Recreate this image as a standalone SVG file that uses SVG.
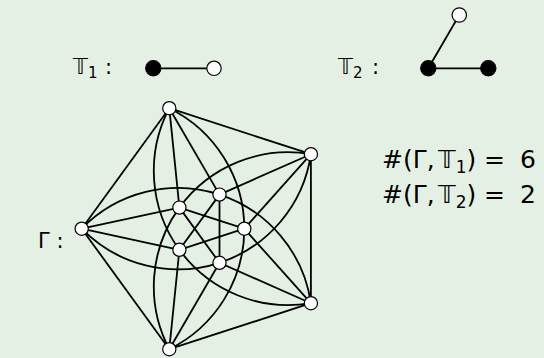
<svg xmlns="http://www.w3.org/2000/svg" width="544" height="358" viewBox="0 0 544 358">
<style>
.e{fill:none;stroke:#000;stroke-width:1.8}
.w{fill:#fff;stroke:#000;stroke-width:1.2}
.b{fill:#000;stroke:#000;stroke-width:1.2}
text{font-family:"DejaVu Sans","Liberation Sans",sans-serif;fill:#000}
.m{font-size:21px}
.s{font-size:15px}
.L{font-size:25px}
.S{font-size:17px}
</style>
<rect width="544" height="358" fill="#e5f0e4"/>

<g id="labels">
<text class="m" x="73" y="74">𝕋<tspan class="s" dy="4">1</tspan></text>
<text class="m" x="105" y="74">:</text>
<text class="m" x="338" y="74">𝕋<tspan class="s" dy="4">2</tspan></text>
<text class="m" x="372" y="74">:</text>
<text class="m" x="38" y="248">Γ :</text>
<text class="L" x="382" y="168">#(Γ,<tspan x="438">𝕋</tspan><tspan class="S" dy="5">1</tspan><tspan dy="-5">)</tspan><tspan x="484">=</tspan><tspan x="520">6</tspan></text>
<text class="L" x="382" y="203">#(Γ,<tspan x="438">𝕋</tspan><tspan class="S" dy="5">2</tspan><tspan dy="-5">)</tspan><tspan x="484">=</tspan><tspan x="520">2</tspan></text>
</g>

<g id="connectors">
<line class="e" x1="153.3" y1="68.3" x2="214" y2="68.3"/>
<line class="e" x1="428.3" y1="68.3" x2="488.3" y2="68.3"/>
<line class="e" x1="428.3" y1="68.3" x2="459.3" y2="15"/>
<line class="e" x1="81.7" y1="228.7" x2="169.3" y2="108.2"/>
<line class="e" x1="169.3" y1="108.2" x2="310.9" y2="154.2"/>
<line class="e" x1="310.9" y1="154.2" x2="310.9" y2="303.2"/>
<line class="e" x1="310.9" y1="303.2" x2="169.3" y2="349.2"/>
<line class="e" x1="169.3" y1="349.2" x2="81.7" y2="228.7"/>
<line class="e" x1="244.3" y1="228.7" x2="179.4" y2="207.6"/>
<line class="e" x1="244.3" y1="228.7" x2="179.4" y2="249.8"/>
<line class="e" x1="219.5" y1="194.6" x2="179.4" y2="249.8"/>
<line class="e" x1="219.5" y1="194.6" x2="219.5" y2="262.8"/>
<line class="e" x1="179.4" y1="207.6" x2="219.5" y2="262.8"/>
<line class="e" x1="81.7" y1="228.7" x2="179.4" y2="207.6"/>
<line class="e" x1="81.7" y1="228.7" x2="179.4" y2="249.8"/>
<line class="e" x1="169.3" y1="108.2" x2="219.5" y2="194.6"/>
<line class="e" x1="169.3" y1="108.2" x2="179.4" y2="207.6"/>
<line class="e" x1="310.9" y1="154.2" x2="219.5" y2="194.6"/>
<line class="e" x1="310.9" y1="154.2" x2="244.3" y2="228.7"/>
<line class="e" x1="310.9" y1="303.2" x2="244.3" y2="228.7"/>
<line class="e" x1="310.9" y1="303.2" x2="219.5" y2="262.8"/>
<line class="e" x1="169.3" y1="349.2" x2="219.5" y2="262.8"/>
<line class="e" x1="169.3" y1="349.2" x2="179.4" y2="249.8"/>
<path class="e" d="M169.3,108.2A134.5,134.5 0 0 1 244.3,228.7"/>
<path class="e" d="M169.3,349.2A134.5,134.5 0 0 0 244.3,228.7"/>
<path class="e" d="M81.7,228.7A134.5,134.5 0 0 0 219.5,262.8"/>
<path class="e" d="M310.9,154.2A134.5,134.5 0 0 1 219.5,262.8"/>
<path class="e" d="M169.3,108.2A134.5,134.5 0 0 0 179.4,249.8"/>
<path class="e" d="M310.9,303.2A134.5,134.5 0 0 1 179.4,249.8"/>
<path class="e" d="M310.9,154.2A134.5,134.5 0 0 0 179.4,207.6"/>
<path class="e" d="M169.3,349.2A134.5,134.5 0 0 1 179.4,207.6"/>
<path class="e" d="M81.7,228.7A134.5,134.5 0 0 1 219.5,194.6"/>
<path class="e" d="M310.9,303.2A134.5,134.5 0 0 0 219.5,194.6"/>
</g>

<g id="t1a"><circle class="b" cx="153.3" cy="68.3" r="7.6"/></g>
<g id="t1b"><circle class="w" cx="214" cy="68.3" r="7.2"/></g>
<g id="t2a"><circle class="b" cx="428.3" cy="68.3" r="7.6"/></g>
<g id="t2b"><circle class="b" cx="488.3" cy="68.3" r="7.6"/></g>
<g id="t2c"><circle class="w" cx="459.3" cy="15" r="7.2"/></g>

<g id="o0"><circle class="w" cx="81.7" cy="228.7" r="6.6"/></g>
<g id="o1"><circle class="w" cx="169.3" cy="108.2" r="6.6"/></g>
<g id="o2"><circle class="w" cx="310.9" cy="154.2" r="6.6"/></g>
<g id="o3"><circle class="w" cx="310.9" cy="303.2" r="6.6"/></g>
<g id="o4"><circle class="w" cx="169.3" cy="349.2" r="6.6"/></g>
<g id="i0"><circle class="w" cx="244.3" cy="228.7" r="6.6"/></g>
<g id="i1"><circle class="w" cx="219.5" cy="194.6" r="6.6"/></g>
<g id="i2"><circle class="w" cx="179.4" cy="207.6" r="6.6"/></g>
<g id="i3"><circle class="w" cx="179.4" cy="249.8" r="6.6"/></g>
<g id="i4"><circle class="w" cx="219.5" cy="262.8" r="6.6"/></g>
</svg>
